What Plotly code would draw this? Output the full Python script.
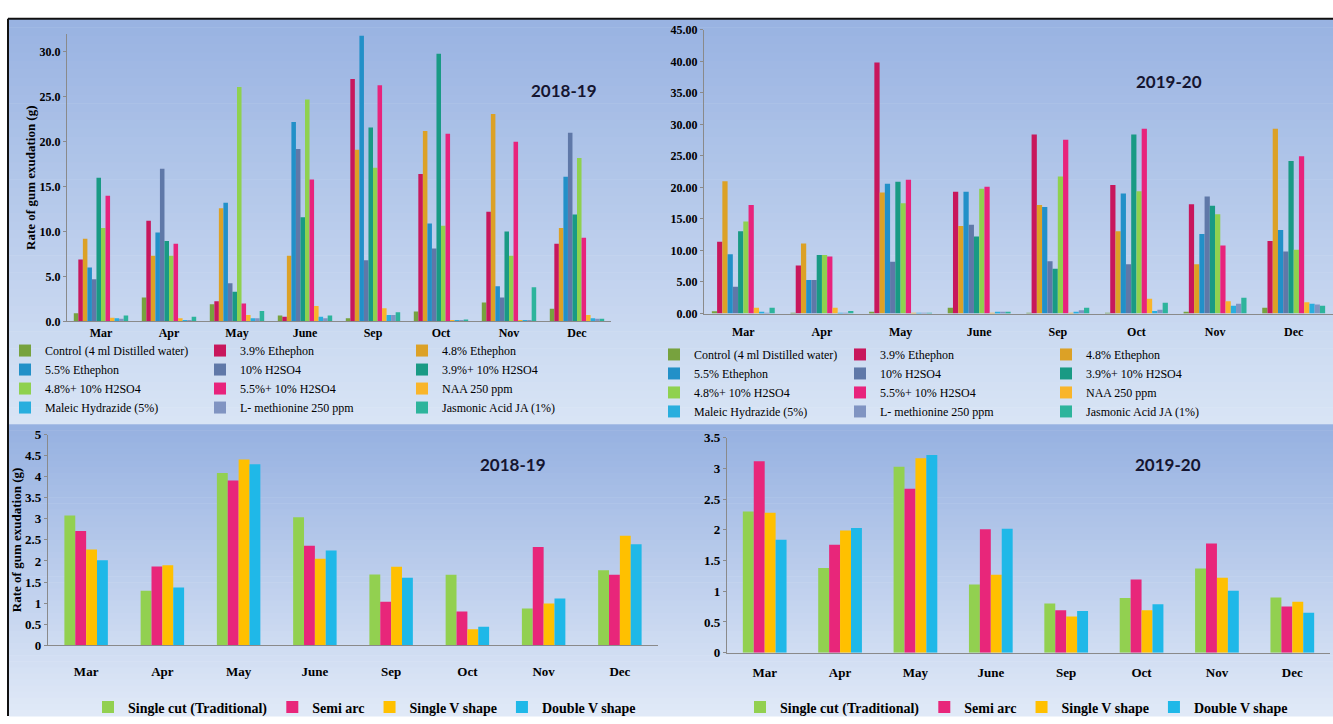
import plotly.graph_objects as go

W, H = 1333, 724

months = ["Mar", "Apr", "May", "June", "Sep", "Oct", "Nov", "Dec"]

treatments = [
    "Control (4 ml Distilled water)", "3.9% Ethephon", "4.8% Ethephon",
    "5.5% Ethephon", "10% H2SO4", "3.9%+ 10% H2SO4",
    "4.8%+ 10% H2SO4", "5.5%+ 10% H2SO4", "NAA 250 ppm",
    "Maleic Hydrazide (5%)", "L- methionine 250 ppm", "Jasmonic Acid JA (1%)",
]
treatment_colors = [
    "#77a23e", "#c8175c", "#dca126", "#2290c8", "#5f78a8", "#199a84",
    "#8fd14f", "#e8237c", "#f9b52a", "#29aede", "#8094c2", "#2db49c",
]

# Rate of gum exudation (g) per treatment (rows) and month (columns)
chem_2018_19 = [
    [0.9, 2.65, 1.9, 0.65, 0.35, 1.1, 2.1, 1.4],
    [6.9, 11.2, 2.25, 0.5, 27.0, 16.4, 12.2, 8.65],
    [9.2, 7.3, 12.6, 7.3, 19.1, 21.2, 23.1, 10.4],
    [6.0, 9.9, 13.2, 22.2, 31.8, 10.9, 3.9, 16.1],
    [4.7, 17.0, 4.25, 19.2, 6.8, 8.1, 2.65, 21.0],
    [16.0, 8.95, 3.3, 11.6, 21.6, 29.8, 10.0, 11.9],
    [10.4, 7.3, 26.1, 24.7, 17.1, 10.65, 7.3, 18.2],
    [14.0, 8.65, 2.0, 15.8, 26.3, 20.9, 20.0, 9.3],
    [0.4, 0.35, 0.7, 1.7, 1.45, 0.1, 0.15, 0.7],
    [0.35, 0.15, 0.35, 0.5, 0.7, 0.15, 0.1, 0.35],
    [0.3, 0.1, 0.35, 0.35, 0.7, 0.15, 0.05, 0.3],
    [0.65, 0.5, 1.15, 0.65, 1.0, 0.2, 3.8, 0.3],
]
chem_2019_20 = [
    [0.35, 0.1, 0.25, 0.9, 0.1, 0.1, 0.25, 0.9],
    [11.4, 7.6, 39.8, 19.3, 28.4, 20.4, 17.35, 11.5],
    [21.0, 11.1, 19.2, 13.9, 17.2, 13.05, 7.8, 29.3],
    [9.4, 5.3, 20.6, 19.3, 16.9, 19.05, 12.6, 13.25],
    [4.25, 5.3, 8.2, 14.1, 8.3, 7.8, 18.55, 9.85],
    [13.05, 9.3, 20.9, 12.2, 7.1, 28.4, 17.1, 24.2],
    [14.6, 9.3, 17.5, 19.8, 21.75, 19.4, 15.75, 10.1],
    [17.2, 9.05, 21.2, 20.1, 27.55, 29.3, 10.8, 24.95],
    [0.9, 0.9, 0.1, 0.1, 0.1, 2.35, 1.95, 1.8],
    [0.25, 0.1, 0.1, 0.15, 0.25, 0.4, 1.25, 1.55],
    [0.1, 0.1, 0.1, 0.25, 0.5, 0.6, 1.55, 1.45],
    [0.9, 0.4, 0.1, 0.25, 0.9, 1.7, 2.5, 1.25],
]

cut_methods = ["Single cut (Traditional)", "Semi arc", "Single V shape", "Double V shape"]
cut_colors = ["#92d050", "#e8267a", "#ffc000", "#1fb8e8"]

single_cut_1819 = [3.08, 1.29, 4.09, 3.04, 1.68, 1.67, 0.87, 1.78]
semi_arc_1819 = [2.71, 1.87, 3.91, 2.36, 1.03, 0.80, 2.33, 1.67]
single_v_1819 = [2.27, 1.90, 4.41, 2.05, 1.86, 0.38, 0.99, 2.60]
double_v_1819 = [2.02, 1.37, 4.30, 2.25, 1.60, 0.44, 1.11, 2.40]

single_cut_1920 = [2.30, 1.38, 3.03, 1.11, 0.80, 0.89, 1.37, 0.90]
semi_arc_1920 = [3.12, 1.76, 2.67, 2.01, 0.69, 1.19, 1.78, 0.75]
single_v_1920 = [2.28, 1.99, 3.17, 1.27, 0.59, 0.69, 1.22, 0.83]
double_v_1920 = [1.84, 2.03, 3.22, 2.02, 0.68, 0.79, 1.01, 0.65]

SERIF = "Liberation Serif, Times New Roman, serif"
AXIS_GREY = "#8a8a8a"


def fx(p):
    return p / W


def fy(p):
    return 1 - p / H


fig = go.Figure()


def add_group(values, names, colors, xa, ya, legends, group_frac):
    n = len(values)
    w = group_frac / n
    for i, (vals, name, col) in enumerate(zip(values, names, colors)):
        fig.add_trace(go.Bar(
            x=months, y=vals, name=name, xaxis=xa, yaxis=ya,
            marker=dict(color=col, line=dict(width=0)),
            width=w, offset=-group_frac / 2 + i * w,
            legend=legends[i % len(legends)],
        ))


add_group(chem_2018_19, treatments, treatment_colors, "x", "y",
          ["legend", "legend2", "legend3"], 0.8)
add_group(chem_2019_20, treatments, treatment_colors, "x2", "y2",
          ["legend4", "legend5", "legend6"], 0.8)
add_group([single_cut_1819, semi_arc_1819, single_v_1819, double_v_1819],
          cut_methods, cut_colors, "x3", "y3", ["legend7"], 0.57)
add_group([single_cut_1920, semi_arc_1920, single_v_1920, double_v_1920],
          cut_methods, cut_colors, "x4", "y4", ["legend8"], 0.58)

# Background panels with vertical colour gradients
shapes = []


def gradient(x0, x1, y0, y1, c0, c1, n=48):
    step = (y1 - y0) / n
    for k in range(n):
        t = k / (n - 1)
        c = tuple(round(a + (b - a) * t) for a, b in zip(c0, c1))
        shapes.append(dict(
            type="rect", xref="paper", yref="paper", layer="below",
            x0=fx(x0), x1=fx(x1), y0=fy(y0 + k * step), y1=fy(y0 + (k + 1) * step + 0.6),
            fillcolor="rgb(%d,%d,%d)" % c, line=dict(width=0),
        ))


gradient(9, W, 12, 426, (153, 179, 226), (216, 228, 245))
gradient(9, W, 426, H, (150, 177, 225), (224, 233, 247))
# frame
shapes.append(dict(type="line", xref="paper", yref="paper", x0=fx(8), x1=fx(W),
                   y0=fy(12), y1=fy(12), line=dict(color="#111", width=2)))
shapes.append(dict(type="line", xref="paper", yref="paper", x0=fx(8), x1=fx(8),
                   y0=fy(12), y1=fy(H), line=dict(color="#111", width=2)))


def xaxis_cfg(x0, x1, anchor, standoff, size=12):
    return dict(
        domain=[fx(x0), fx(x1)], anchor=anchor, type="category",
        categoryorder="array", categoryarray=months, range=[-0.5, 7.5],
        showline=True, linecolor=AXIS_GREY, linewidth=1.2, ticks="",
        showgrid=False, zeroline=False, ticklabelstandoff=standoff,
        tickfont=dict(family=SERIF, size=size, color="#000", weight="bold"),
    )


def yaxis_cfg(ytop, ybot, anchor, rng, dtick, fmt, title=None, size=12):
    cfg = dict(
        domain=[fy(ybot), fy(ytop)], anchor=anchor, range=rng, dtick=dtick,
        tick0=0, tickformat=fmt, showline=True, linecolor=AXIS_GREY,
        linewidth=1.2, ticks="outside", ticklen=3, tickcolor=AXIS_GREY,
        showgrid=False, zeroline=False,
        tickfont=dict(family=SERIF, size=size, color="#000", weight="bold"),
    )
    if title:
        cfg["title"] = dict(text=title, standoff=0,
                            font=dict(family=SERIF, size=13, color="#000", weight="bold"))
    return cfg


def legend_cfg(xpx, ypx, orientation="v", size=12, bold=False):
    return dict(
        x=fx(xpx), y=fy(ypx), xanchor="left", yanchor="top",
        orientation=orientation, bgcolor="rgba(0,0,0,0)", borderwidth=0,
        traceorder="normal", itemclick=False, itemdoubleclick=False,
        font=dict(family=SERIF, size=size, color="#000",
                  weight="bold" if bold else "normal"),
    )


year_font = dict(family="Lato, Open Sans, sans-serif", size=17, color="#151530", weight="bold")

fig.update_layout(
    width=W, height=H, margin=dict(l=0, r=0, t=0, b=0),
    paper_bgcolor="white", plot_bgcolor="rgba(0,0,0,0)",
    barmode="overlay", shapes=shapes, showlegend=True,
    xaxis=xaxis_cfg(67, 611, "y", 0),
    yaxis=yaxis_cfg(27.6, 321, "x", [0, 32], 5, ".1f", "Rate of gum exudation (g)"),
    xaxis2=xaxis_cfg(704, 1333, "y2", 7),
    yaxis2=yaxis_cfg(23.3, 313, "x2", [0, 45], 5, ".2f"),
    xaxis3=xaxis_cfg(48, 658, "y3", 14, 13),
    yaxis3=yaxis_cfg(436.7, 651.7, "x3", [0, 5], 0.5, "", "Rate of gum exudation (g)", 13),
    xaxis4=xaxis_cfg(727, 1330, "y4", 8, 13),
    yaxis4=yaxis_cfg(440, 659.3, "x4", [0, 3.5], 0.5, "", None, 13),
    legend=legend_cfg(5, 336),
    legend2=legend_cfg(200, 336),
    legend3=legend_cfg(402, 336),
    legend4=legend_cfg(654, 340),
    legend5=legend_cfg(840, 340),
    legend6=legend_cfg(1046, 340),
    legend7=legend_cfg(88, 699, "h", 14, True),
    legend8=legend_cfg(740, 699, "h", 14, True),
    annotations=[
        dict(text="2018-19", x=fx(564), y=fy(73), xref="paper", yref="paper",
             showarrow=False, font=year_font),
        dict(text="2019-20", x=fx(1204), y=fy(63), xref="paper", yref="paper",
             showarrow=False, font=year_font),
        dict(text="2018-19", x=fx(513), y=fy(467), xref="paper", yref="paper",
             showarrow=False, font=year_font),
        dict(text="2019-20", x=fx(1203), y=fy(467), xref="paper", yref="paper",
             showarrow=False, font=year_font),
    ],
)

fig.write_html("out.html")
